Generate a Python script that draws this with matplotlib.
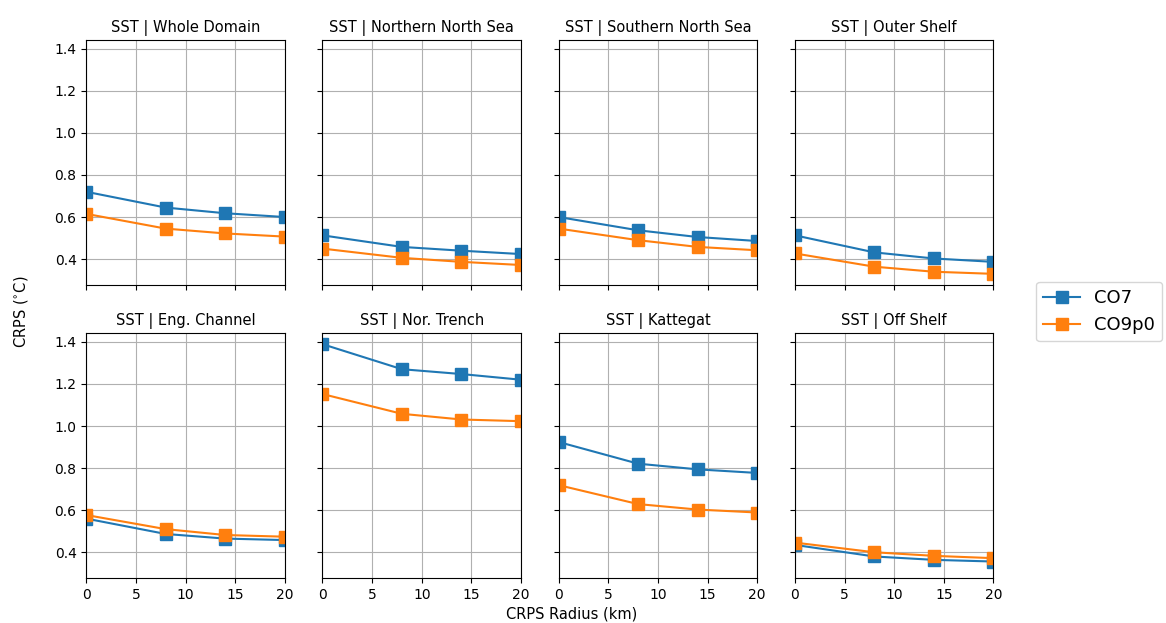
import matplotlib
matplotlib.use("Agg")
import matplotlib.pyplot as plt

radius = [0, 8, 14, 20]

regions = ["Whole Domain", "Northern North Sea", "Southern North Sea", "Outer Shelf",
           "Eng. Channel", "Nor. Trench", "Kattegat", "Off Shelf"]

co7 = [
    [0.720, 0.645, 0.618, 0.600],
    [0.513, 0.458, 0.440, 0.424],
    [0.600, 0.537, 0.505, 0.486],
    [0.513, 0.432, 0.403, 0.387],
    [0.560, 0.487, 0.465, 0.458],
    [1.389, 1.270, 1.247, 1.220],
    [0.924, 0.821, 0.794, 0.777],
    [0.435, 0.380, 0.364, 0.356],
]

co9p0 = [
    [0.615, 0.545, 0.522, 0.507],
    [0.450, 0.406, 0.387, 0.372],
    [0.545, 0.490, 0.458, 0.442],
    [0.427, 0.364, 0.340, 0.330],
    [0.577, 0.510, 0.482, 0.474],
    [1.152, 1.058, 1.031, 1.023],
    [0.719, 0.629, 0.603, 0.589],
    [0.446, 0.400, 0.383, 0.372],
]

fig, axes = plt.subplots(2, 4, figsize=(11.66, 6.23), dpi=100, sharex=True, sharey=True)
fig.subplots_adjust(left=0.074, right=0.852, top=0.936, bottom=0.072, wspace=0.19, hspace=0.196)

for i, ax in enumerate(axes.flat):
    ax.plot(radius, co7[i], marker="s", markersize=8, color="C0", label="CO7")
    ax.plot(radius, co9p0[i], marker="s", markersize=8, color="C1", label="CO9p0")
    ax.set_title(f"SST | {regions[i]}", fontsize=10.5)
    ax.grid(True)
    ax.set_xlim(0, 20)
    ax.set_xticks([0, 5, 10, 15, 20])

fig.supxlabel("CRPS Radius (km)", fontsize=10.5, x=0.49, y=0.003)
fig.supylabel("CRPS ($^{\\circ}$C)", fontsize=10.5, x=0.01)

handles, labels = axes[0, 0].get_legend_handles_labels()
fig.legend(handles, labels, loc="center left", bbox_to_anchor=(0.881, 0.5), fontsize=13)

fig.savefig("out.png", dpi=100)
